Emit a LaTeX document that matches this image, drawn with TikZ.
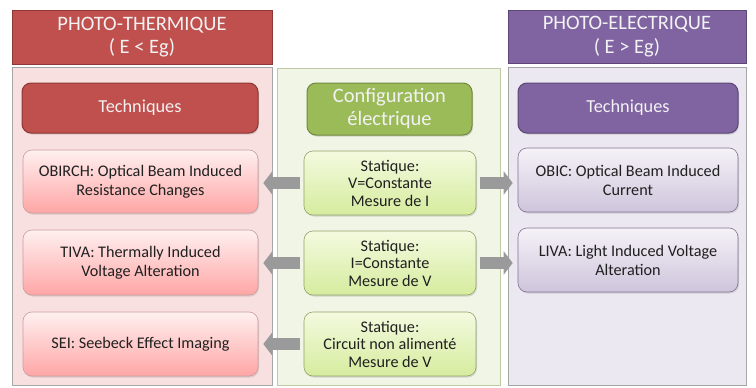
\documentclass[tikz,border=0pt]{standalone}
\usepackage{fontspec}
\setmainfont{Carlito}
\usetikzlibrary{arrows.meta,shadows}
\definecolor{redH}{HTML}{C0504D}
\definecolor{redB}{HTML}{8C3836}
\definecolor{purH}{HTML}{8064A2}
\definecolor{purB}{HTML}{5C4776}
\definecolor{grnH}{HTML}{9BBB59}
\definecolor{grnB}{HTML}{71893F}
\definecolor{grnT}{HTML}{F3FADF}
\definecolor{grnL}{HTML}{D6EC9E}
\definecolor{txt}{HTML}{202020}
\definecolor{arr}{HTML}{9A9A9A}
\tikzset{
  hdr/.style={draw=#1, line width=0.8pt, minimum width=260pt, minimum height=54pt, text=white!95!black, font=\fontsize{20.5}{23.5}\selectfont, align=center, inner sep=0pt},
  panel/.style={draw=gray!70, line width=0.6pt, inner sep=0pt},
  tech/.style={rounded corners=9pt, line width=1pt, text=white!95!black, font=\fontsize{18.3}{22}\selectfont, align=center, inner sep=0pt, drop shadow={shadow xshift=1pt, shadow yshift=-1.5pt, opacity=0.3}},
  box/.style={rounded corners=9pt, line width=0.6pt, text=txt, font=\fontsize{16.2}{19}\selectfont, align=center, inner sep=0pt, drop shadow={shadow xshift=1pt, shadow yshift=-1.5pt, opacity=0.25}},
  pinkbox/.style={box, draw=red!30!gray!60, top color=red!6, bottom color=red!35!white, minimum width=235pt, minimum height=64pt},
  greenbox/.style={box, draw=grnH!60!gray, top color=grnT, bottom color=grnL, minimum width=172pt, minimum height=64pt, font=\fontsize{16.2}{17.5}\selectfont},
  purbox/.style={box, draw=purH!50!gray, top color=purH!8, bottom color=purH!38!white, minimum width=220pt, minimum height=64pt},
  barrow/.style={arr, line width=12pt, -{Triangle[width=23pt,length=9pt]}, shorten <=4pt, shorten >=5pt}
}
\begin{document}
\begin{tikzpicture}[x=1pt,y=-1pt]
\useasboundingbox (0,0) rectangle (756,388);
\fill[white] (0,0) rectangle (756,388);
% panels
\node[panel, fill=red!10!white!95!gray, minimum width=260pt, minimum height=318pt] (pL) at (142,226) {};
\node[panel, draw=grnH!50!white!80!gray, fill=grnH!15!white, minimum width=223pt, minimum height=317pt] (pM) at (388.5,226.5) {};
\node[panel, fill=purH!15!white, minimum width=238pt, minimum height=318pt] (pR) at (627,226) {};
% headers
\node[hdr=redB, fill=redH] (hL) at (142,37) {PHOTO-THERMIQUE\\( E < Eg)};
\node[hdr=purB, fill=purH, minimum width=238pt, minimum height=53pt] (hR) at (627,36.5) {PHOTO-ELECTRIQUE\\( E > Eg)};
% technique headers
\node[tech, draw=redB, fill=redH, minimum width=236pt, minimum height=50pt] (tL) at (140,108) {Techniques};
\node[tech, draw=purB, fill=purH, minimum width=220pt, minimum height=50pt] (tR) at (628,108) {Techniques};
\node[tech, draw=grnB, fill=grnH, minimum width=165pt, minimum height=52pt, font=\fontsize{20.5}{23}\selectfont] (cf) at (389.5,109) {Configuration\\électrique};
% left boxes
\node[pinkbox, minimum height=63pt] (l1) at (140.5,181.5) {OBIRCH: Optical Beam Induced\\Resistance Changes};
\node[pinkbox, minimum height=65pt] (l2) at (140.5,262.5) {TIVA: Thermally Induced\\Voltage Alteration};
\node[pinkbox] (l3) at (140.5,344) {SEI: Seebeck Effect Imaging};
% middle boxes
\node[greenbox] (m1) at (390,183) {Statique:\\V=Constante\\Mesure de I};
\node[greenbox] (m2) at (390,263) {Statique:\\I=Constante\\Mesure de V};
\node[greenbox] (m3) at (390,344) {Statique:\\Circuit non alimenté\\Mesure de V};
% right boxes
\node[purbox] (r1) at (628,180) {OBIC: Optical Beam Induced\\Current};
\node[purbox] (r2) at (628,260) {LIVA: Light Induced Voltage\\Alteration};
% arrows
\draw[barrow] (m1.west) -- (m1.west -| l1.east);
\draw[barrow] (m2.west) -- (m2.west -| l2.east);
\draw[barrow] (m3.west) -- (m3.west -| l3.east);
\draw[barrow] (m1.east) -- (m1.east -| r1.west);
\draw[barrow] (m2.east) -- (m2.east -| r2.west);
\end{tikzpicture}
\end{document}
